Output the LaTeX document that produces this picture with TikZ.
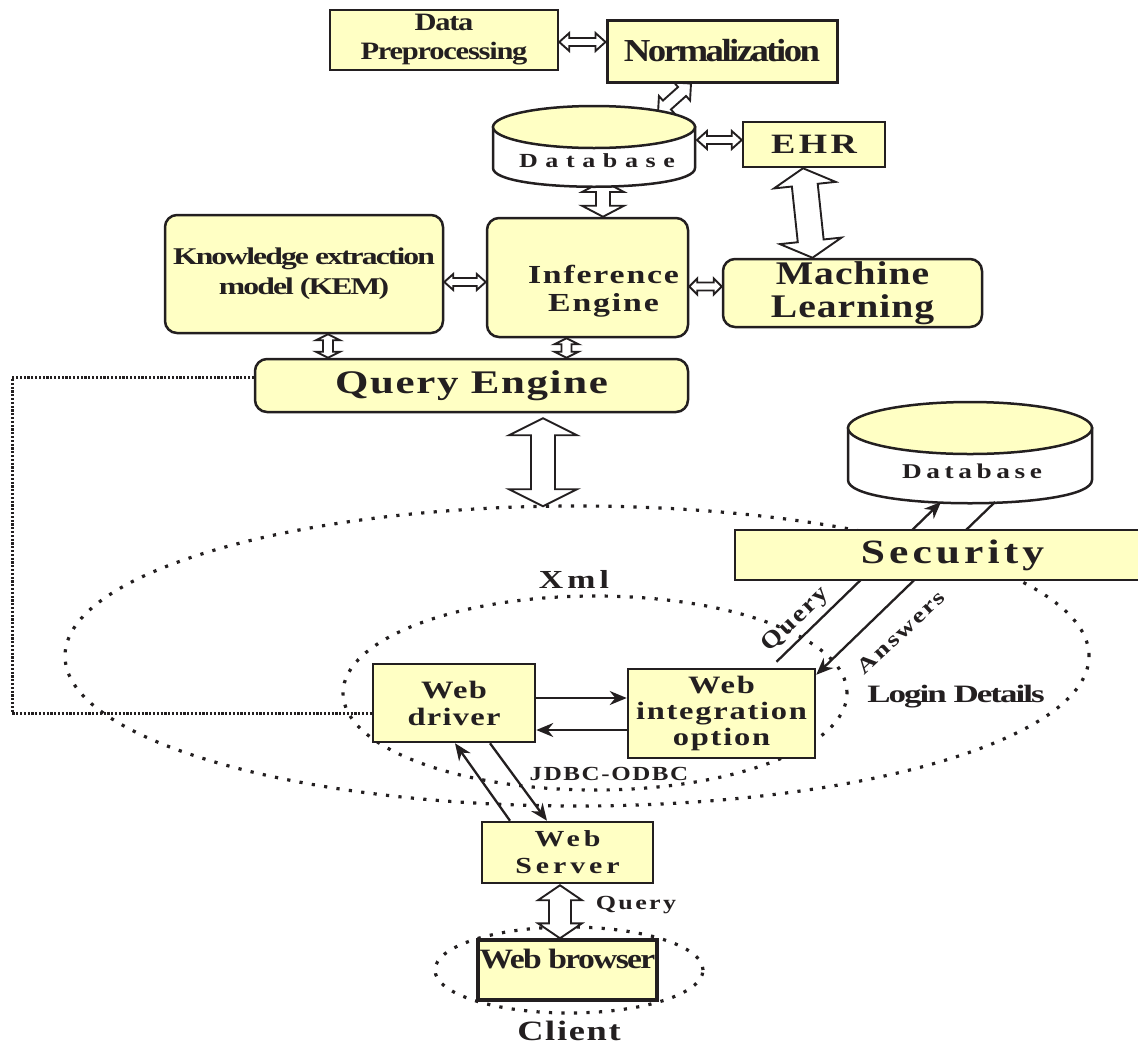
\documentclass[tikz,border=0pt]{standalone}
\usepackage{fontspec}
\setmainfont{Liberation Serif}
\usetikzlibrary{arrows.meta,calc}
\pgfdeclarelayer{ell}
\pgfdeclarelayer{conn}
\pgfsetlayers{ell,conn,main}
\definecolor{fillY}{RGB}{255,255,196}
\definecolor{ink}{RGB}{35,31,32}
\newcommand\fsz[2]{\fontsize{#1}{#2}\selectfont}
\newcommand\tgt[2]{\addfontfeatures{FakeStretch=#1,LetterSpace=#2}}
% hollow double arrow: from, to, head length, half head width, half shaft width
\newcommand\harrow[5]{%
  \draw[hollow] (#1) -- ($(#1)!#3!(#2)!#4!90:(#2)$) -- ($(#1)!#3!(#2)!#5!90:(#2)$)
   -- ($(#2)!#3!(#1)!#5!-90:(#1)$) -- ($(#2)!#3!(#1)!#4!-90:(#1)$) -- (#2)
   -- ($(#2)!#3!(#1)!#4!90:(#1)$) -- ($(#2)!#3!(#1)!#5!90:(#1)$)
   -- ($(#1)!#3!(#2)!#5!-90:(#2)$) -- ($(#1)!#3!(#2)!#4!-90:(#2)$) -- cycle;}
\begin{document}
\begin{tikzpicture}[x=1pt,y=-1pt,
  box/.style={draw=ink, line width=2.5pt, fill=fillY, text=ink, inner sep=0pt, align=center},
  rbox/.style={box, rounded corners=12pt},
  hollow/.style={draw=ink, fill=white, line width=1.9pt, line join=miter},
  thinarrow/.style={draw=ink, line width=2.3pt, -{Stealth[length=17pt,width=14pt]}},
  dots/.style={draw=ink, line width=3.2pt, dash pattern=on 3.2pt off 9.3pt},
  dens/.style={draw=ink, line width=3pt, dash pattern=on 2.2pt off 1.6pt},
  lbl/.style={text=ink, inner sep=0pt}]
\useasboundingbox (0,0) rectangle (1138,1045);

% dotted ellipses
\begin{pgfonlayer}{ell}
\draw[dots] (577,656) ellipse [x radius=512pt, y radius=150pt];
\draw[dots] (595,693) ellipse [x radius=252pt, y radius=97pt];
\draw[dots] (569,970) ellipse [x radius=134pt, y radius=43pt];
\end{pgfonlayer}

% boxes
\node[box, minimum width=228pt, minimum height=60pt, font=\bfseries\fsz{25}{29}\tgt{1.22}{-5}] (dp) at (444,40) {Data\\Preprocessing};
\node[box, line width=3pt, minimum width=230pt, minimum height=62pt, font=\bfseries\fsz{32}{34}\tgt{1.15}{-8}] (norm) at (722,51) {Normalization};
\node[box, minimum width=142pt, minimum height=45pt, font=\bfseries\fsz{28}{30}\tgt{1.3}{12}] (ehr) at (814,144.5) {EHR};
\node[rbox, minimum width=278pt, minimum height=118pt, font=\bfseries\fsz{24}{30}\tgt{1.32}{-8}] (kem) at (304,274) {Knowledge extraction\\model (KEM)};
\node[rbox, minimum width=201pt, minimum height=119pt, font=\bfseries\fsz{26}{28}\tgt{1.3}{7}] (ie) at (587.5,277.5) {\hspace*{32pt}\rule{0pt}{46pt}Inference\\\hspace*{32pt}Engine};
\node[rbox, minimum width=259pt, minimum height=68pt, font=\bfseries\fsz{33}{33}\tgt{1.2}{3}] (ml) at (852.5,293) {Machine\\Learning};
\node[rbox, minimum width=433pt, minimum height=53pt, font=\bfseries\fsz{33}{36}\tgt{1.3}{5}] (qe) at (471.5,385.5) {Query Engine};
\node[box, minimum width=162pt, minimum height=78pt, font=\bfseries\fsz{25}{27}\tgt{1.3}{5}] (wd) at (454,703) {Web\\driver};
\node[box, minimum width=187pt, minimum height=89pt, font=\bfseries\fsz{25}{26}\tgt{1.3}{7}] (wio) at (721.5,713.5) {Web\\integration\\option};
\node[box, minimum width=171pt, minimum height=61pt, font=\bfseries\fsz{23}{27}\tgt{1.3}{17}] (ws) at (567.5,852.5) {Web\\Server};
\node[box, line width=3.4pt, minimum width=179pt, minimum height=60pt, text depth=22pt, font=\bfseries\fsz{28}{30}\tgt{1.2}{-6}] (wb) at (567.5,970) {Web browser};

% database cylinders
\filldraw[fill=white, draw=ink, line width=2.5pt] (493,127) -- (493,168) .. controls (493,193) and (695,193) .. (695,168) -- (695,127) -- cycle;
\filldraw[fill=fillY, draw=ink, line width=2.5pt] (594,127) ellipse [x radius=101pt, y radius=21pt];
\node[lbl, font=\bfseries\fsz{20}{22}\tgt{1.3}{38}] (db1) at (597,161) {Database};
\filldraw[fill=white, draw=ink, line width=2.5pt] (848,428) -- (848,480) .. controls (848,511) and (1092,511) .. (1092,480) -- (1092,428) -- cycle;
\filldraw[fill=fillY, draw=ink, line width=2.5pt] (970,428) ellipse [x radius=122pt, y radius=26pt];
\node[lbl, font=\bfseries\fsz{21}{23}\tgt{1.3}{22}] (db2) at (972,471) {Database};

% connector end points
\coordinate (a1) at ([yshift=-2pt]dp.east);
\coordinate (a2) at (a1 -| norm.west);
\coordinate (b1) at ([xshift=-31pt]norm.south);
\coordinate (b2) at (658,113);
\coordinate (c1) at (697,140);
\coordinate (c2) at (c1 -| ehr.west);
\coordinate (d1) at (603,181);
\coordinate (d2) at (d1 |- ie.north);
\coordinate (e1) at ([xshift=-11pt]ehr.south);
\coordinate (e2) at ([xshift=-40pt]ml.north);
\coordinate (f1) at ([yshift=-8pt]kem.east);
\coordinate (f2) at (f1 -| ie.west);
\coordinate (g1) at ([yshift=-9pt]ie.east);
\coordinate (g2) at (g1 -| ml.west);
\coordinate (h1) at ([xshift=24pt]kem.south);
\coordinate (h2) at (h1 |- qe.north);
\coordinate (i1) at ([xshift=-21pt]ie.south);
\coordinate (i2) at (i1 |- qe.north);
\coordinate (j1) at ([xshift=71.5pt,yshift=-5pt]qe.south);
\coordinate (j2) at ([yshift=-88pt]j1);
\coordinate (k1) at ([xshift=-7.5pt,yshift=-1pt]ws.south);
\coordinate (k2) at (k1 |- wb.north);

% hollow double arrows
\begin{pgfonlayer}{conn}
\harrow{a1}{a2}{10pt}{9pt}{4pt}
\harrow{b1}{b2}{12pt}{12pt}{6pt}
\harrow{c1}{c2}{10pt}{9pt}{4pt}
\harrow{d1}{d2}{11pt}{21pt}{7pt}
\harrow{e1}{e2}{17pt}{31pt}{13pt}
\harrow{f1}{f2}{9pt}{8pt}{4pt}
\harrow{g1}{g2}{8pt}{8pt}{4pt}
\harrow{h1}{h2}{6pt}{12pt}{5pt}
\harrow{i1}{i2}{6pt}{12pt}{5pt}
\harrow{j1}{j2}{17pt}{34pt}{12pt}
\harrow{k1}{k2}{15pt}{22pt}{11pt}
% dotted link from query engine to web driver
\coordinate (l1) at (12,713);
\draw[dens] ([yshift=8pt]qe.west) -| (l1) |- ([yshift=-10pt]wd.west);
\end{pgfonlayer}

% thin arrows
\coordinate (m1) at ([yshift=5pt]wd.east);
\coordinate (m2) at (m1 -| wio.west);
\coordinate (n1) at ([yshift=-27pt]wd.east);
\coordinate (n2) at (n1 -| wio.west);
\draw[thinarrow] (m1) -- (m2);
\draw[thinarrow] (n2) -- (n1);
\draw[thinarrow] ([xshift=-57.5pt]ws.north) -- ([xshift=1pt]wd.south);
\draw[thinarrow] ([xshift=36pt]wd.south) -- ([xshift=-20.5pt]ws.north);
\coordinate (q1) at ([xshift=55pt,yshift=6pt]wio.north);
\coordinate (q2) at (941,502);
\coordinate (r1) at (995,502);
\coordinate (r2) at ([yshift=-7pt]wio.north east);
\draw[thinarrow] (q1) -- (q2);
\draw[thinarrow] (r1) -- (r2);

% security box over the query/answer lines
\node[box, minimum width=435pt, minimum height=50pt, font=\bfseries\fsz{34}{36}\tgt{1.28}{12}] (sec) at (952.5,555) {Security};

% labels
\node[lbl, font=\bfseries\fsz{26}{28}\tgt{1.3}{16}] (xml) at (574,579) {Xml};
\node[lbl, font=\bfseries\fsz{20}{22}\tgt{1.25}{8}] (jdbc) at (609,774) {JDBC-ODBC};
\node[lbl, rotate=44, font=\bfseries\fsz{24}{26}\tgt{1.15}{8}] (qlbl) at (796,620) {Query};
\node[lbl, rotate=43, font=\bfseries\fsz{21}{23}\tgt{1.3}{9}] (albl) at (901,632) {Answers};
\node[lbl, font=\bfseries\fsz{25}{27}\tgt{1.4}{-8}] (login) at (956,697) {Login Details};
\node[lbl, font=\bfseries\fsz{20}{22}\tgt{1.3}{12}] (qry) at (636,905) {Query};
\node[lbl, font=\bfseries\fsz{28}{30}\tgt{1.3}{6}] (client) at (569,1031) {Client};
\end{tikzpicture}
\end{document}
